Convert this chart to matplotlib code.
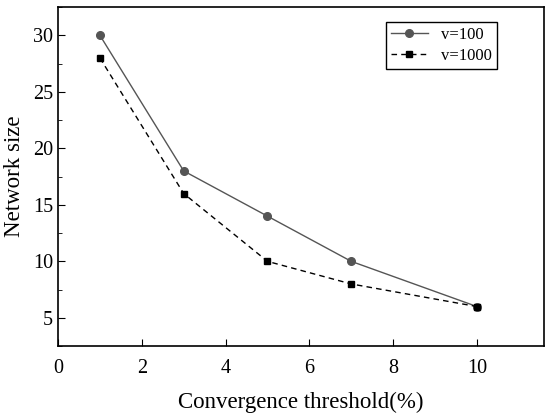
import matplotlib.pyplot as plt
from matplotlib.ticker import MultipleLocator

plt.rcParams['font.family'] = 'Liberation Serif'

threshold = [1, 3, 5, 7, 10]
size_v100 = [30, 18, 14, 10, 6]
size_v1000 = [28, 16, 10, 8, 6]

fig = plt.figure(figsize=(5.5, 4.17), dpi=100)
ax = fig.add_axes([0.1055, 0.170, 0.8835, 0.813])

ax.plot(threshold, size_v100, '-o', color='#555555', lw=1.0, ms=5.5, label='v=100')
ax.plot(threshold, size_v1000, '--s', color='black', lw=1.0, ms=5, dashes=(4, 3),
        label='v=1000')

ax.set_xlim(0, 11.6)
ax.set_ylim(2.5, 32.5)
ax.xaxis.set_major_locator(MultipleLocator(2))
ax.yaxis.set_major_locator(MultipleLocator(5))
ax.yaxis.set_minor_locator(MultipleLocator(2.5))
ax.tick_params(which='both', direction='in', labelsize=14.5)
ax.tick_params(which='major', length=5)
ax.tick_params(which='minor', length=3)
ax.tick_params(axis='x', pad=9)
for s in ax.spines.values():
    s.set_linewidth(1.2)

ax.set_xlabel('Convergence threshold(%)', fontsize=16.5, labelpad=10)
ax.set_ylabel('Network size', fontsize=16.5, labelpad=6)

leg = ax.legend(loc='upper right', bbox_to_anchor=(0.92, 0.98), fontsize=12,
                fancybox=False, edgecolor='black', framealpha=1,
                handlelength=2.2, borderpad=0.3, labelspacing=0.3)
leg.get_frame().set_linewidth(1.0)

fig.savefig('out.png', dpi=100)
